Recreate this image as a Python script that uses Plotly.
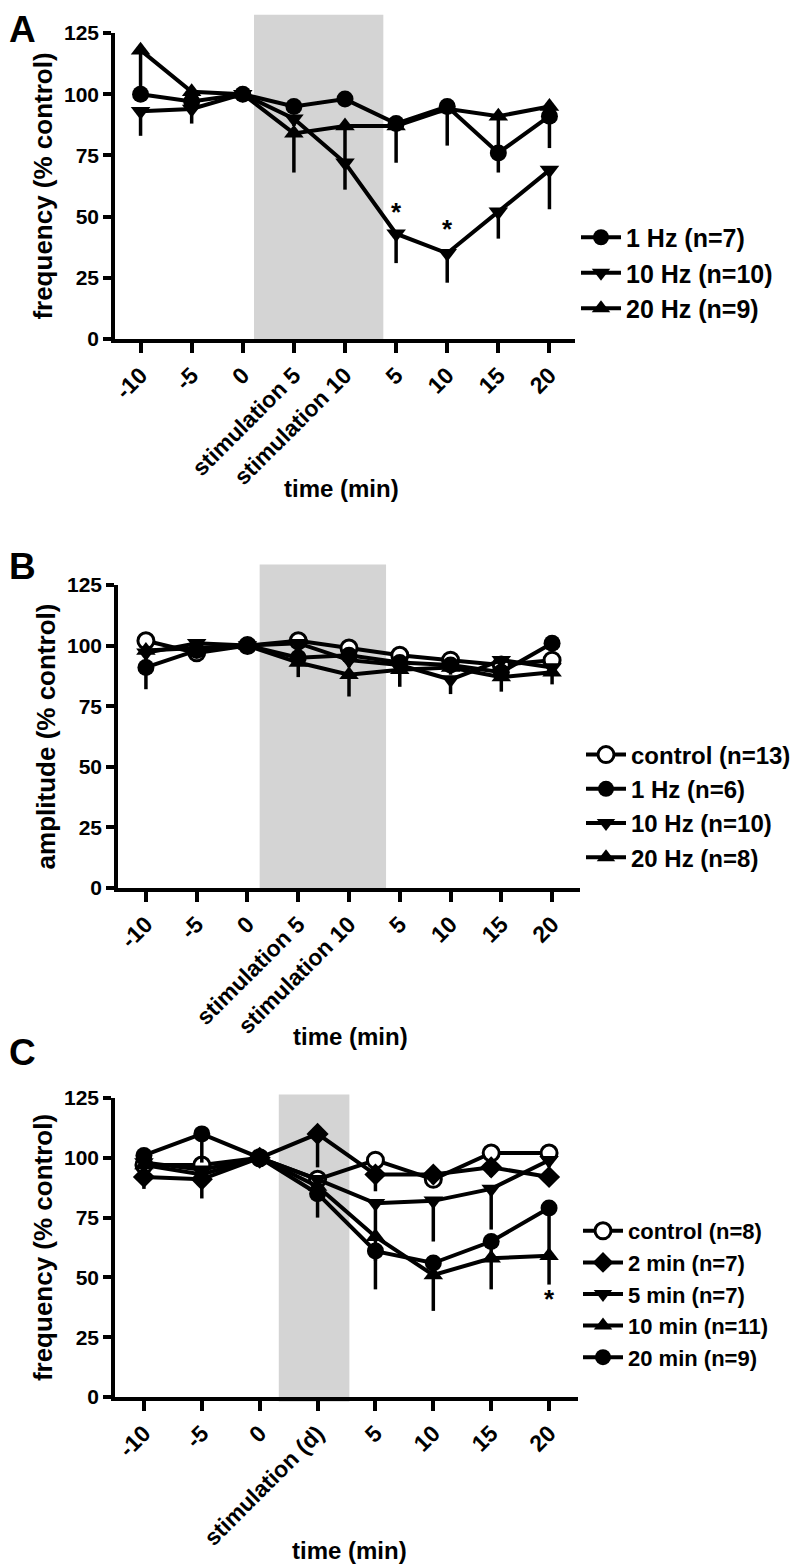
import plotly.graph_objects as go

# ---------------- data ----------------
cats_ab = ["-10", "-5", "0", "stimulation 5", "stimulation 10", "5", "10", "15", "20"]
cats_c = ["-10", "-5", "0", "stimulation (d)", "5", "10", "15", "20"]
y_ticks = [0, 25, 50, 75, 100, 125]
x_title = "time (min)"

# Panel A: frequency (% control)
a_names = ["1 Hz (n=7)", "10 Hz (n=10)", "20 Hz (n=9)"]
a_1hz = [100, 97, 100, 95, 98, 88, 95, 76, 91]
a_1hz_err = [3, 3, 0, 3, 3, 3, 3, 8, 3]
a_10hz = [93, 94, 100, 90, 72, 43, 35, 52, 69]
a_10hz_err = [10, 6, 0, 3, 11, 12, 12, 11, 16]
a_20hz = [118, 101, 100, 84, 87, 87, 94, 91, 95]
a_20hz_err = [18, 3, 0, 16, 14, 15, 15, 15, 17]
a_sig_idx = [5, 6]
a_sig_y = [52, 45]

# Panel B: amplitude (% control)
b_names = ["control (n=13)", "1 Hz (n=6)", "10 Hz (n=10)", "20 Hz (n=8)"]
b_control = [102, 97, 100, 102, 99, 96, 94, 92, 94]
b_control_err = [2, 2, 0, 2, 2, 2, 2, 2, 2]
b_1hz = [91, 98, 100, 95, 96, 93, 92, 89, 101]
b_1hz_err = [9, 2, 0, 3, 3, 3, 3, 3, 3]
b_10hz = [97, 101, 100, 101, 94, 92, 86, 94, 91]
b_10hz_err = [3, 2, 0, 3, 3, 3, 6, 3, 3]
b_20hz = [98, 99, 100, 93, 88, 90, 91, 87, 89]
b_20hz_err = [3, 2, 0, 6, 9, 7, 3, 6, 5]

# Panel C: frequency (% control), stimulation duration
c_names = ["control (n=8)", "2 min (n=7)", "5 min (n=7)", "10 min (n=11)", "20 min (n=9)"]
c_control = [97, 97, 100, 91, 99, 91, 102, 102]
c_control_err = [2, 2, 0, 2, 2, 2, 2, 2]
c_2min = [92, 91, 100, 110, 93, 93, 96, 92]
c_2min_err = [5, 8, 0, 14, 7, 4, 4, 3]
c_5min = [98, 95, 100, 91, 81, 82, 87, 99]
c_5min_err = [2, 2, 0, 3, 12, 17, 17, 3]
c_10min = [97, 93, 100, 88, 67, 51, 58, 59]
c_10min_err = [3, 3, 0, 5, 10, 15, 13, 12]
c_20min = [101, 110, 100, 85, 61, 56, 65, 79]
c_20min_err = [3, 12, 0, 10, 16, 5, 5, 20]
c_sig_idx = [7]
c_sig_y = [41]

# stimulation windows (category-index units) and shade extent (% units)
stim_a = (2.22, 4.75, 0, 132.5)
stim_b = (2.24, 4.73, 0, 133.5)
stim_c = (2.33, 3.55, -2, 126.5)
Y_MAX = 125

# ---------------- style ----------------
FONT = "Liberation Sans, Arial, sans-serif"
PAGE_W, PAGE_H = 812, 1566
OFF = 8  # default page (body) margin in the browser
W, H = PAGE_W - OFF, PAGE_H - OFF
BLACK = "black"
SHADE = "#d4d4d4"

fig = go.Figure()
shapes = []


def add_shade(win, xa, ya):
    x0, x1, b0, b1 = win
    shapes.append(dict(type="rect", xref=xa, yref=ya + " domain",
                       x0=x0, x1=x1, y0=b0 / Y_MAX, y1=b1 / Y_MAX,
                       fillcolor=SHADE, line=dict(width=0), layer="below"))


def add_series(x, y, err, name, symbol, fill, xa, ya, legend, size=17):
    fig.add_trace(go.Scatter(
        x=x, y=y, name=name, mode="lines+markers",
        line=dict(color=BLACK, width=4),
        marker=dict(symbol=symbol, size=size, color=fill,
                    line=dict(color=BLACK, width=3 if fill == "white" else 0)),
        error_y=dict(type="data", symmetric=False, array=[0] * len(err),
                     arrayminus=err, thickness=3.5, width=0, color=BLACK),
        cliponaxis=False, xaxis=xa, yaxis=ya, legend=legend))


xa_idx = list(range(len(cats_ab)))
xc_idx = list(range(len(cats_c)))

# Panel A
add_shade(stim_a, "x", "y")
add_series(xa_idx, a_1hz, a_1hz_err, a_names[0], "circle", BLACK, "x", "y", "legend")
add_series(xa_idx, a_10hz, a_10hz_err, a_names[1], "triangle-down", BLACK, "x", "y", "legend")
add_series(xa_idx, a_20hz, a_20hz_err, a_names[2], "triangle-up", BLACK, "x", "y", "legend")

# Panel B
add_shade(stim_b, "x2", "y2")
add_series(xa_idx, b_control, b_control_err, b_names[0], "circle", "white", "x2", "y2", "legend2", 16)
add_series(xa_idx, b_1hz, b_1hz_err, b_names[1], "circle", BLACK, "x2", "y2", "legend2")
add_series(xa_idx, b_10hz, b_10hz_err, b_names[2], "triangle-down", BLACK, "x2", "y2", "legend2")
add_series(xa_idx, b_20hz, b_20hz_err, b_names[3], "triangle-up", BLACK, "x2", "y2", "legend2")

# Panel C
add_shade(stim_c, "x3", "y3")
add_series(xc_idx, c_control, c_control_err, c_names[0], "circle", "white", "x3", "y3", "legend3", 16)
add_series(xc_idx, c_2min, c_2min_err, c_names[1], "diamond", BLACK, "x3", "y3", "legend3")
add_series(xc_idx, c_5min, c_5min_err, c_names[2], "triangle-down", BLACK, "x3", "y3", "legend3")
add_series(xc_idx, c_10min, c_10min_err, c_names[3], "triangle-up", BLACK, "x3", "y3", "legend3")
add_series(xc_idx, c_20min, c_20min_err, c_names[4], "circle", BLACK, "x3", "y3", "legend3")


# page-pixel -> paper helpers
def fx(px):
    return (px - OFF) / W


def fy(py):
    return 1 - (py - OFF) / H


def px_x(a, b):
    return [fx(a), fx(b)]


def px_y(top, bottom):
    return [fy(bottom), fy(top)]


def xaxis_cfg(domain, anchor, cats, rng):
    return dict(domain=domain, anchor=anchor, range=rng, automargin=False,
                tickvals=list(range(len(cats))), ticktext=cats, tickangle=-45,
                showline=True, linecolor=BLACK, linewidth=3.5, mirror=False,
                ticks="outside", ticklen=10, tickwidth=3.5, tickcolor=BLACK,
                showgrid=False, zeroline=False,
                tickfont=dict(family=FONT, size=23, color=BLACK, weight="bold"))


def yaxis_cfg(domain, anchor, title):
    return dict(domain=domain, anchor=anchor, range=[0, Y_MAX], automargin=False,
                tickvals=y_ticks, ticktext=[str(v) for v in y_ticks],
                showline=True, linecolor=BLACK, linewidth=3.5,
                ticks="outside", ticklen=8, tickwidth=3.5, tickcolor=BLACK,
                showgrid=False, zeroline=False,
                tickfont=dict(family=FONT, size=21, color=BLACK, weight="bold"),
                title=dict(text=title, standoff=5,
                           font=dict(family=FONT, size=26, color=BLACK, weight="bold")))


def legend_cfg(x, yc, size):
    return dict(x=x, y=yc, xanchor="left", yanchor="middle",
                bgcolor="rgba(0,0,0,0)", borderwidth=0, itemwidth=40,
                font=dict(family=FONT, size=size, color=BLACK, weight="bold"))


fig.update_layout(
    width=W, height=H, margin=dict(l=0, r=0, t=0, b=0, autoexpand=False),
    paper_bgcolor="white", plot_bgcolor="rgba(0,0,0,0)",
    showlegend=True,
    xaxis=xaxis_cfg(px_x(115, 575), "y", cats_ab, [-0.5, 8.5]),
    yaxis=yaxis_cfg(px_y(33, 339), "x", "frequency (% control)"),
    xaxis2=xaxis_cfg(px_x(118, 580), "y2", cats_ab, [-0.55, 8.55]),
    yaxis2=yaxis_cfg(px_y(585, 888), "x2", "amplitude (% control)"),
    xaxis3=xaxis_cfg(px_x(115, 578), "y3", cats_c, [-0.5, 7.5]),
    yaxis3=yaxis_cfg(px_y(1098, 1397), "x3", "frequency (% control)"),
    legend=legend_cfg(fx(576), fy(273), 25),
    legend2=legend_cfg(fx(581), fy(806), 24),
    legend3=legend_cfg(fx(578), fy(1294), 22),
    shapes=shapes,
)

annotations = []
for i, yv in zip(a_sig_idx, a_sig_y):
    annotations.append(dict(x=i, y=yv, xref="x", yref="y", text="*", showarrow=False,
                            font=dict(family=FONT, size=26, color=BLACK, weight="bold")))
for i, yv in zip(c_sig_idx, c_sig_y):
    annotations.append(dict(x=i, y=yv, xref="x3", yref="y3", text="*", showarrow=False,
                            font=dict(family=FONT, size=26, color=BLACK, weight="bold")))
# x-axis titles
for cx, cy in [(341, 489), (350, 1036), (349, 1550)]:
    annotations.append(dict(x=fx(cx), y=fy(cy), xref="paper", yref="paper", text=x_title,
                            xanchor="center", yanchor="middle", showarrow=False,
                            font=dict(family=FONT, size=24, color=BLACK, weight="bold")))
# panel letters
for letter, top in [("A", OFF), ("B", 545), ("C", 1031)]:
    annotations.append(dict(x=0, y=fy(top), xref="paper", yref="paper", text=letter,
                            xanchor="left", yanchor="top", showarrow=False, borderpad=0,
                            font=dict(family=FONT, size=37, color=BLACK, weight="bold")))
fig.update_layout(annotations=annotations)

fig.write_html("out.html")
